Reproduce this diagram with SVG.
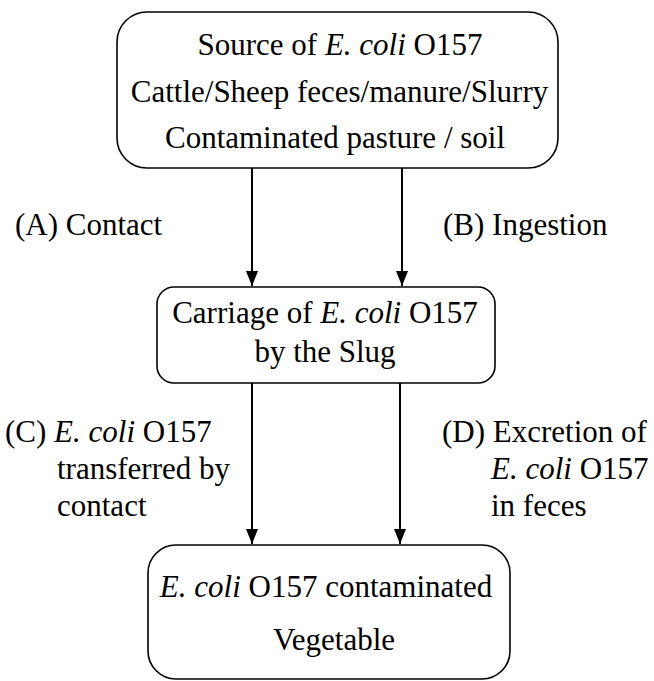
<svg xmlns="http://www.w3.org/2000/svg" width="654" height="681" viewBox="0 0 654 681">
<style>
.box{fill:#fff;stroke:#000;stroke-width:1.6}
.t{font-size:31px;fill:#000}
.i{font-style:italic}
.c{stroke:#000;stroke-width:2;fill:none}
</style>
<defs>
<marker id="ah" markerWidth="15" markerHeight="12" refX="15" refY="6" orient="auto" markerUnits="userSpaceOnUse" viewBox="0 0 15 12">
<path d="M0,0 L15,6 L0,12 Z" fill="#000"/>
</marker>
</defs>
<rect width="654" height="681" fill="#fff"/>
<g font-family="'Liberation Serif', 'DejaVu Serif', serif">
<g id="source">
<rect class="box" x="117" y="12" width="441" height="156" rx="30" ry="30"/>
<text class="t" x="340" y="55" text-anchor="middle">Source of <tspan class="i">E. coli</tspan> O157</text>
<text class="t" x="339.5" y="102" text-anchor="middle">Cattle/Sheep feces/manure/Slurry</text>
<text class="t" x="335" y="148" text-anchor="middle">Contaminated pasture / soil</text>
</g>
<g id="slug">
<rect class="box" x="157" y="287" width="338" height="96" rx="17" ry="17"/>
<text class="t" x="325" y="323" text-anchor="middle">Carriage of <tspan class="i">E. coli</tspan> O157</text>
<text class="t" x="325" y="362" text-anchor="middle">by the Slug</text>
</g>
<g id="vegetable">
<rect class="box" x="148" y="545" width="362" height="134" rx="28" ry="28"/>
<text class="t" x="326" y="597" text-anchor="middle"><tspan class="i">E. coli</tspan> O157 contaminated</text>
<text class="t" x="334" y="650" text-anchor="middle">Vegetable</text>
</g>
<g id="connectors">
<line class="c" x1="252" y1="168" x2="252" y2="286" marker-end="url(#ah)"/>
<line class="c" x1="402" y1="168" x2="402" y2="286" marker-end="url(#ah)"/>
<line class="c" x1="252" y1="383" x2="252" y2="544" marker-end="url(#ah)"/>
<line class="c" x1="400" y1="383" x2="400" y2="544" marker-end="url(#ah)"/>
</g>
<g id="labels">
<text class="t" x="15" y="235">(A) Contact</text>
<text class="t" x="443" y="235">(B) Ingestion</text>
<text class="t" x="5" y="442">(C) <tspan class="i">E. coli</tspan> O157</text>
<text class="t" x="57" y="479">transferred by</text>
<text class="t" x="57" y="516">contact</text>
<text class="t" x="442" y="442">(D) Excretion of</text>
<text class="t" x="491" y="479"><tspan class="i">E. coli</tspan> O157</text>
<text class="t" x="491" y="516">in feces</text>
</g>
</g>
</svg>
